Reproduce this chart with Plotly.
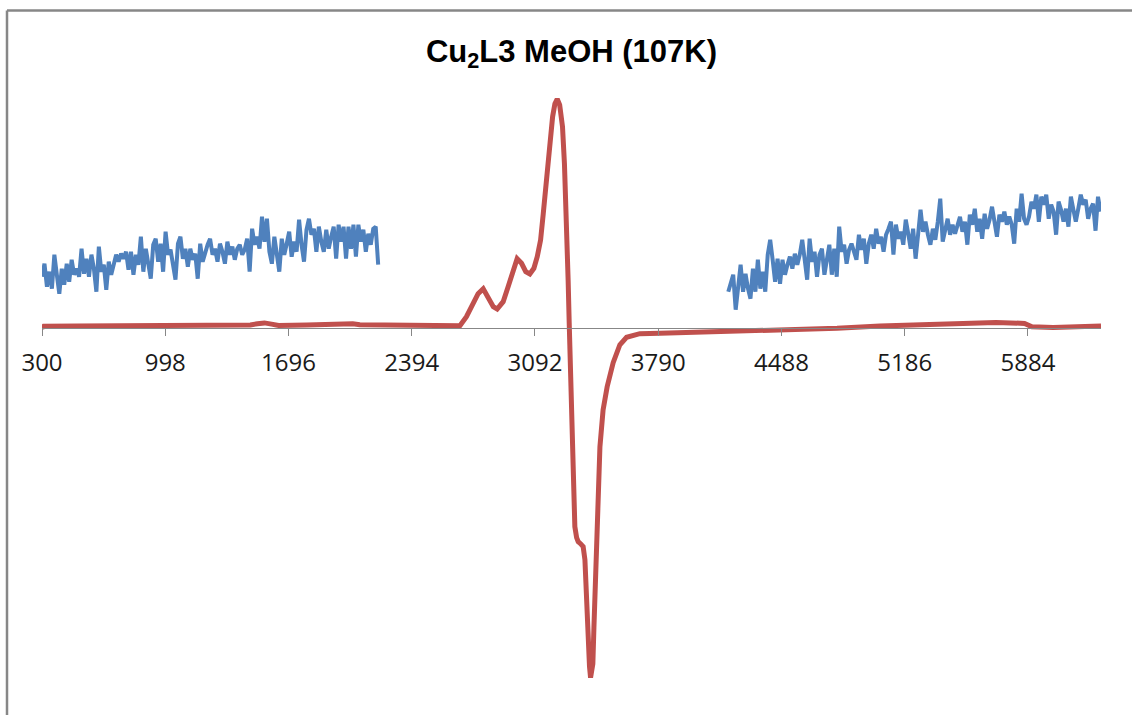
import numpy as np
import plotly.graph_objects as go

# ---------------- data ----------------
tick_vals = [300, 998, 1696, 2394, 3092, 3790, 4488, 5186, 5884]
tick_text = ["300", "998", "1696", "2394", "3092", "3790", "4488", "5186", "5884"]

# red: full spectrum (arbitrary units)
red_x = [300, 310, 500, 700, 740, 800, 1000, 1100, 1300, 1480, 1520, 1560, 1600, 1640,
         1800, 2000, 2020, 2060, 2100, 2300, 2500, 2560, 2620, 2667, 2704, 2742, 2770,
         2799, 2827, 2856, 2878, 2912, 2940, 2968, 2991, 3016, 3040, 3063, 3086, 3105,
         3124, 3139, 3158, 3176, 3192, 3205, 3218, 3232, 3248, 3259, 3271, 3280, 3286,
         3290, 3299, 3308, 3318, 3328, 3337, 3350, 3365, 3375, 3384, 3393, 3401, 3407,
         3413, 3420, 3426, 3433, 3441, 3450, 3460, 3478, 3501, 3535, 3573, 3611, 3686,
         3800, 4139, 4497, 4803, 5046, 5312, 5516, 5703, 5865, 5907, 6027, 6298]
red_y = [-0.5, 1.5, 1.8, 2.0, 2.6, 2.0, 2.5, 2.2, 2.3, 2.8, 4.0, 4.8, 3.6, 2.3,
         2.8, 3.0, 4.2, 4.0, 3.0, 2.5, 2.0, 1.4, 1.5, 2.0, 11, 24, 34,
         39, 31, 21, 18.7, 26, 41, 57.7, 69, 64.4, 56, 53.7, 59.4, 71,
         87.7, 114, 154, 187, 211, 224, 228.7, 222.7, 201, 164, 114, 47, 5,
         -25, -92, -159, -199, -210, -214, -216, -219, -232, -276, -309, -339, -350,
         -345, -336, -300, -262, -215, -160, -119, -82, -59, -35, -17, -9.6, -6,
         -5.6, -4, -2.3, -0.6, 1.7, 3.7, 4.3, 5.3, 4.3, 1.0, 0.3, 1.7]

# blue: magnified baseline, low-field part
blue_left_start, blue_left_end = 300, 2204
blue_left = [51, 64, 41, 56, 39, 73, 53, 34, 59, 43, 64, 46, 68, 53, 59, 51, 79, 54, 69, 51,
             73, 59, 36, 81, 56, 63, 38, 66, 53, 64, 73, 66, 74, 69, 76, 58, 76, 53, 73, 63,
             91, 56, 79, 64, 49, 83, 89, 66, 84, 56, 96, 73, 78, 63, 48, 84, 91, 69, 79, 61,
             79, 68, 74, 49, 84, 66, 76, 83, 89, 73, 79, 66, 84, 76, 64, 86, 73, 81, 68, 79,
             83, 73, 78, 89, 56, 99, 83, 91, 79, 111, 86, 109, 76, 64, 91, 76, 56, 89, 73, 84,
             96, 71, 86, 76, 108, 83, 66, 98, 109, 93, 99, 76, 101, 86, 76, 98, 79, 91, 101, 69,
             103, 86, 101, 69, 101, 79, 103, 71, 103, 86, 98, 76, 94, 83, 99, 101, 63]

# blue: magnified baseline, high-field part
blue_right_start, blue_right_end = 4187, 6295
blue_right = [36, 46, 53, 18, 43, 63, 36, 54, 39, 29, 59, 36, 68, 39, 56, 36, 73, 88, 68, 46,
              69, 44, 68, 53, 63, 71, 59, 74, 63, 73, 88, 66, 48, 89, 66, 76, 51, 73, 79, 53,
              71, 83, 53, 79, 51, 101, 76, 83, 64, 78, 84, 76, 68, 93, 78, 89, 64, 84, 93, 79,
              99, 84, 91, 76, 93, 99, 106, 73, 103, 89, 96, 83, 108, 94, 79, 99, 69, 93, 118, 96,
              106, 93, 83, 99, 88, 106, 129, 86, 96, 109, 93, 103, 94, 104, 111, 96, 106, 83, 113, 103,
              119, 96, 109, 89, 114, 99, 108, 121, 106, 91, 113, 106, 116, 103, 111, 103, 84, 119, 106, 134,
              109, 103, 111, 126, 119, 133, 106, 131, 123, 133, 109, 123, 116, 93, 126, 118, 106, 119, 101, 131,
              118, 106, 119, 133, 123, 128, 109, 119, 124, 97, 131, 116]

blue_left_x = np.linspace(blue_left_start, blue_left_end, len(blue_left))
blue_right_x = np.linspace(blue_right_start, blue_right_end, len(blue_right))

# ---------------- figure ----------------
W, H = 1132, 715
ML, MR, MT, MB = 42, 31, 60, 0
plot_h = H - MT - MB
axis_px = 327.7                      # pixel row of the zero line
y_top = axis_px - MT
y_bot = axis_px - (H - MB)

RED = "#C0504D"
BLUE = "#4F81BD"
GRAY = "#878787"

fig = go.Figure()
fig.add_trace(go.Scatter(x=blue_left_x, y=blue_left, mode="lines",
                         line=dict(color=BLUE, width=4), showlegend=False))
fig.add_trace(go.Scatter(x=blue_right_x, y=blue_right, mode="lines",
                         line=dict(color=BLUE, width=4), showlegend=False))
fig.add_trace(go.Scatter(x=red_x, y=red_y, mode="lines",
                         line=dict(color=RED, width=5), showlegend=False))

pos = (0 - y_bot) / (y_top - y_bot)

fig.update_layout(
    width=W, height=H,
    margin=dict(l=ML, r=MR, t=MT, b=MB, pad=0),
    paper_bgcolor="white", plot_bgcolor="white",
    title=dict(text="Cu<sub>2</sub>L3 MeOH (107K)", x=0.5, xref="paper", xanchor="center",
               y=1 - 51 / H, yref="container", yanchor="middle",
               font=dict(family="Liberation Sans, Arial, sans-serif", size=31,
                         color="#000000", weight="bold")),
    xaxis=dict(range=[300, 6298], tickmode="array", tickvals=tick_vals, ticktext=tick_text,
               ticks="outside", ticklen=7, tickcolor=GRAY, tickwidth=1,
               showline=True, linecolor=GRAY, linewidth=1, showgrid=False, zeroline=False,
               anchor="free", position=pos, ticklabelstandoff=6,
               tickfont=dict(family="Open Sans, sans-serif", size=24, color="#1a1a1a")),
    yaxis=dict(range=[y_bot, y_top], visible=False),
)

# chart frame (left and top edges visible)
fx = (7 - ML) / (W - ML - MR)
fy = (H - MB - 10.5) / plot_h
fig.add_shape(type="line", xref="paper", yref="paper", x0=fx, x1=fx, y0=-0.2, y1=fy,
              line=dict(color=GRAY, width=2.5))
fig.add_shape(type="line", xref="paper", yref="paper", x0=fx, x1=1.2, y0=fy, y1=fy,
              line=dict(color=GRAY, width=2.5))

fig.write_html("out.html")
